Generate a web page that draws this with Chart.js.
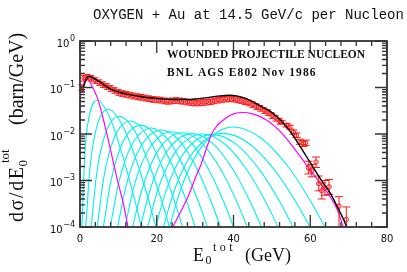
<!DOCTYPE html>
<html>
<head>
<meta charset="utf-8">
<script src="https://cdn.jsdelivr.net/npm/chart.js@4.4.1/dist/chart.umd.min.js"></script>
<style>
  html, body { margin: 0; padding: 0; background: #fff; }
</style>
</head>
<body>
<canvas id="chart" width="407" height="272"></canvas>
<script>
// texts and ticks
const titleText = 'OXYGEN + Au at 14.5 GeV/c per Nucleon';
const noteLines = ['WOUNDED PROJECTILE NUCLEON', 'BNL AGS E802 Nov 1986'];
const xTicks = [0, 20, 40, 60, 80];
const yTickExps = [0, -1, -2, -3, -4];

// measured points (dense part, E0 in GeV, dsigma/dE in barn/GeV)
const denseE = [0.4, 1, 2, 3, 4, 5, 6, 7, 8, 9, 10, 11, 12, 13, 14, 15, 16, 17, 18, 19, 20,
  21, 22, 23, 24, 25, 26, 27, 28, 29, 30, 31, 32, 33, 34, 35, 36, 37, 38, 39, 40,
  41, 42, 43, 44, 45, 46, 47, 48, 49, 50, 51, 52];
const denseSigma = [0.100, 0.160, 0.168, 0.158, 0.142, 0.128, 0.116, 0.106, 0.096, 0.087, 0.079,
  0.075, 0.072, 0.069, 0.066, 0.064, 0.062, 0.060, 0.058, 0.056, 0.055,
  0.054, 0.052, 0.051, 0.052, 0.053, 0.052, 0.051, 0.049, 0.048, 0.047,
  0.047, 0.048, 0.049, 0.050, 0.052, 0.054, 0.056, 0.057, 0.058, 0.057,
  0.055, 0.053, 0.050, 0.047, 0.043, 0.039, 0.036, 0.032, 0.029, 0.025, 0.022, 0.019];
const denseRelErr = 0.14;

// measured points (tail, with error bars)
const tailE = [52.5, 53.8, 54.7, 55.6, 56.4, 57.3, 58.2, 58.8, 59.5, 60.4, 61.5, 62.2, 63.0, 63.8, 64.9, 67.5, 69.4];
const tailSigma = [0.018, 0.0155, 0.0141, 0.011, 0.0094, 0.0068, 0.0062, 0.0065, 0.0019, 0.0016, 0.0025,
  0.00086, 0.0006, 0.0007, 0.00073, 0.00028, 0.000145];
const tailLo = [0.0165, 0.0142, 0.0128, 0.0099, 0.0084, 0.0060, 0.0054, 0.0057, 0.00138, 0.0012, 0.0019,
  0.0006, 0.0004, 0.00048, 0.0005, 0.00005, 0.00005];
const tailHi = [0.0196, 0.0169, 0.0155, 0.0122, 0.0105, 0.0077, 0.0071, 0.0074, 0.0026, 0.0022, 0.0032,
  0.00125, 0.00088, 0.001, 0.00105, 0.00045, 0.00027];

// total model (black)
const blackE = [0.9, 1.6, 2.3, 3, 4, 5, 6.5, 8, 10.4, 12.5, 15.6, 18, 20.8, 25, 28, 30.4, 34, 36.5, 38.8, 40.8,
  43, 45.1, 47.5, 49.5, 51.2, 52.1, 54.7, 57.3, 59.9, 63.3, 65.3, 66.8, 68.6, 69.5];
const blackSigma = [0.100, 0.150, 0.172, 0.168, 0.150, 0.135, 0.110, 0.092, 0.078, 0.071, 0.064, 0.060, 0.057,
  0.055, 0.055, 0.057, 0.062, 0.066, 0.068, 0.066, 0.059, 0.049, 0.038, 0.031, 0.024, 0.0205, 0.0115,
  0.0055, 0.0025, 0.0009, 0.00052, 0.0003, 0.00015, 0.0001];

// one wounded nucleon and all wounded (magenta)
const magenta1E = [0.6, 1.0, 1.75, 3.0, 4.7, 6.5, 7.9, 9.9, 11.3, 12.5];
const magenta1Sigma = [0.075, 0.122, 0.155, 0.112, 0.055, 0.015, 0.0048, 0.0009, 0.00032, 0.0001];
const magenta2E = [24.2, 28.1, 30, 31.6, 33, 34.3, 36, 38, 40, 42.5, 45, 48.6, 52.1, 55, 58.6, 61.5, 63.3, 65.1, 67, 68.6];
const magenta2Sigma = [1e-4, 4.4e-4, 1.1e-3, 2.3e-3, 5e-3, 0.010, 0.016, 0.022, 0.027, 0.029, 0.027, 0.020,
  0.0115, 0.006, 0.0024, 0.00115, 0.00075, 0.00046, 0.00024, 0.0001];

// intermediate numbers of wounded nucleons (cyan)
const cyanE = [
  [0.5, 1.3, 2.5, 4.5, 7.95, 11.4, 14.3, 16.0],
  [1.5, 2.68, 4.45, 7.4, 11.1, 14.85, 17.95, 19.8],
  [2.9, 4.38, 6.6, 10.3, 14.2, 18.1, 21.35, 23.3],
  [4.5, 6.22, 8.8, 13.1, 17.18, 21.26, 24.66, 26.7],
  [6.1, 8.06, 11.0, 15.9, 20.13, 24.36, 27.89, 30.0],
  [7.9, 10.04, 13.25, 18.6, 22.98, 27.36, 31.01, 33.2],
  [9.8, 12.1, 15.55, 21.3, 25.89, 30.48, 34.3, 36.6],
  [11.7, 14.16, 17.85, 24.0, 28.8, 33.6, 37.6, 40.0],
  [13.7, 16.3, 20.2, 26.7, 31.77, 36.84, 41.07, 43.6],
  [15.7, 18.42, 22.5, 29.3, 34.7, 40.1, 44.6, 47.3],
  [17.6, 20.46, 24.75, 31.9, 37.81, 43.72, 48.65, 51.6],
  [19.7, 22.66, 27.1, 34.5, 40.8, 47.1, 52.35, 55.5],
  [21.7, 24.82, 29.5, 37.3, 44.08, 50.86, 56.51, 59.9],
  [23.3, 26.64, 31.65, 40.0, 47.14, 54.28, 60.23, 63.8]
];
const cyanSigma = [
  [1e-4, 4.3e-3, 0.0265, 0.053, 0.0207, 2.78e-3, 3.73e-4, 1e-4],
  [1e-4, 2.2e-3, 0.0151, 0.034, 0.0151, 2.47e-3, 3.6e-4, 1e-4],
  [1e-4, 1.47e-3, 9.98e-3, 0.024, 0.0118, 2.15e-3, 3.52e-4, 1e-4],
  [1e-4, 1.18e-3, 7.8e-3, 0.019, 0.0101, 2.1e-3, 3.52e-4, 1e-4],
  [1e-4, 9.7e-4, 6.25e-3, 0.0155, 8.46e-3, 1.86e-3, 3.36e-4, 1e-4],
  [1e-4, 8.65e-4, 5.31e-3, 0.0135, 7.49e-3, 1.72e-3, 3.25e-4, 1e-4],
  [1e-4, 8.28e-4, 4.9e-3, 0.0122, 7.19e-3, 1.79e-3, 3.32e-4, 1e-4],
  [1e-4, 7.98e-4, 4.57e-3, 0.0112, 6.67e-3, 1.69e-3, 3.25e-4, 1e-4],
  [1e-4, 7.08e-4, 4.17e-3, 0.0106, 6.34e-3, 1.64e-3, 3.21e-4, 1e-4],
  [1e-4, 6.98e-4, 4.05e-3, 0.0102, 6.14e-3, 1.6e-3, 3.18e-4, 1e-4],
  [1e-4, 6.92e-4, 3.98e-3, 0.0100, 6.03e-3, 1.58e-3, 3.16e-4, 1e-4],
  [1e-4, 6.86e-4, 3.92e-3, 0.0098, 5.92e-3, 1.57e-3, 3.15e-4, 1e-4],
  [1e-4, 7.0e-4, 4.07e-3, 0.0103, 6.19e-3, 1.61e-3, 3.19e-4, 1e-4],
  [1e-4, 8.0e-4, 5.24e-3, 0.0141, 8.18e-3, 1.95e-3, 3.44e-4, 1e-4]
];

const RED = '#ff1a1a';
const CYAN = '#00f0f0';
const MAGENTA = '#ff00ff';
const AXIS = '#333';

function pts(xs, ys) {
  return xs.map((x, i) => ({ x: x, y: ys[i] }));
}

function curve(xs, ys, color, width, order) {
  return {
    data: pts(xs, ys),
    showLine: true,
    borderColor: color,
    borderWidth: width,
    pointRadius: 0,
    fill: false,
    cubicInterpolationMode: 'monotone',
    order: order
  };
}

// draw text char by char with extra spacing, returns end x
function drawSpaced(c, text, x, y, gap) {
  for (const ch of text) {
    c.fillText(ch, x, y);
    x += c.measureText(ch).width + gap;
  }
  return x - gap;
}

const datasets = [];
datasets.push(curve(blackE, blackSigma, '#000', 1.4, 0));
datasets.push({
  data: pts(denseE, denseSigma),
  pointRadius: 2,
  pointBorderWidth: 1,
  pointBorderColor: RED,
  pointBackgroundColor: 'rgba(255,120,120,0.6)',
  errLo: denseSigma.map(v => v * (1 - denseRelErr)),
  errHi: denseSigma.map(v => v * (1 + denseRelErr)),
  capW: 6,
  barColor: RED,
  order: 1
});
datasets.push({
  data: pts(tailE, tailSigma),
  pointRadius: 2.2,
  pointBorderWidth: 1,
  pointBorderColor: RED,
  pointBackgroundColor: 'rgba(255,255,255,0)',
  errLo: tailLo,
  errHi: tailHi,
  capW: 8,
  barColor: RED,
  order: 1
});
datasets.push(curve(magenta1E, magenta1Sigma, MAGENTA, 1.2, 2));
datasets.push(curve(magenta2E, magenta2Sigma, MAGENTA, 1.2, 2));
cyanE.forEach((xs, i) => datasets.push(curve(xs, cyanSigma[i], CYAN, 1.1, 3)));

// error bars right after their dataset, so the black line stays on top
const errorBars = {
  id: 'errorBars',
  afterDatasetDraw(chart, args) {
    const ds = chart.data.datasets[args.index];
    if (!ds.errLo) return;
    const c = chart.ctx, a = chart.chartArea;
    const xs = chart.scales.x, ys = chart.scales.y;
    c.save();
    c.beginPath();
    c.rect(a.left - 8, a.top, a.right - a.left + 16, a.bottom - a.top);
    c.clip();
    c.strokeStyle = ds.barColor;
    c.lineWidth = 1;
    const w = ds.capW / 2;
    ds.data.forEach((p, i) => {
      const px = xs.getPixelForValue(p.x);
      const y1 = ys.getPixelForValue(ds.errLo[i]);
      const y2 = ys.getPixelForValue(ds.errHi[i]);
      c.beginPath();
      c.moveTo(px, y1); c.lineTo(px, y2);
      c.moveTo(px - w, y1); c.lineTo(px + w, y1);
      c.moveTo(px - w, y2); c.lineTo(px + w, y2);
      c.stroke();
    });
    c.restore();
  }
};

// frame with inward ticks on all four sides
const frame = {
  id: 'frame',
  afterDatasetsDraw(chart) {
    const c = chart.ctx, a = chart.chartArea;
    const xs = chart.scales.x, ys = chart.scales.y;
    c.save();
    c.strokeStyle = AXIS;
    c.lineWidth = 1.3;
    c.beginPath();
    for (let v = 0; v <= 80; v += 4) {
      const px = xs.getPixelForValue(v);
      const len = xTicks.includes(v) ? 12 : 5;
      c.moveTo(px, a.bottom); c.lineTo(px, a.bottom - len);
      c.moveTo(px, a.top); c.lineTo(px, a.top + len);
    }
    for (let e = -4; e <= 0; e++) {
      for (let m = 1; m <= 9; m++) {
        const v = m * Math.pow(10, e);
        if (v > 1.0001) break;
        const py = ys.getPixelForValue(v);
        const len = m === 1 ? 12 : 5;
        c.moveTo(a.left, py); c.lineTo(a.left + len, py);
        c.moveTo(a.right, py); c.lineTo(a.right - len, py);
      }
    }
    c.stroke();
    c.lineWidth = 1.8;
    c.strokeRect(a.left, a.top, a.right - a.left, a.bottom - a.top);
    c.restore();
  }
};

// all texts: title, note, axis titles, tick labels
const texts = {
  id: 'texts',
  afterDraw(chart) {
    const c = chart.ctx, a = chart.chartArea;
    const xs = chart.scales.x, ys = chart.scales.y;
    c.save();
    c.fillStyle = '#111';
    c.textAlign = 'left';
    c.textBaseline = 'alphabetic';

    c.font = '14px "Liberation Mono", monospace';
    c.fillText(titleText, 93, 19);

    c.font = 'bold 11.5px "Liberation Serif", serif';
    drawSpaced(c, noteLines[0], 167, 57.5, 0);
    drawSpaced(c, noteLines[1], 167, 76, 1.1);

    // x tick labels
    c.font = '10px "DejaVu Sans", sans-serif';
    c.textAlign = 'center';
    xTicks.forEach(v => c.fillText(String(v), xs.getPixelForValue(v), a.bottom + 15));

    // y tick labels 10^k
    c.textAlign = 'left';
    yTickExps.forEach(e => {
      const py = ys.getPixelForValue(Math.pow(10, e));
      const ex = e === 0 ? '0' : '\u2212' + (-e);
      c.font = '8px "DejaVu Sans", sans-serif';
      const ew = c.measureText(ex).width;
      c.font = '10px "DejaVu Sans", sans-serif';
      const bw = c.measureText('10').width;
      const right = 75;
      c.fillText('10', right - ew - bw - 0.5, py + 5.5);
      c.font = '8px "DejaVu Sans", sans-serif';
      c.fillText(ex, right - ew, py - 0.5);
    });

    // x axis title
    c.font = '18px "Liberation Serif", serif';
    c.fillText('E', 193, 260.5);
    c.font = '12px "Liberation Serif", serif';
    c.fillText('0', 205.5, 264);
    drawSpaced(c, 'tot', 213, 250.5, 3.5);
    c.font = '18px "Liberation Serif", serif';
    c.fillText('(GeV)', 245, 260.5);

    // y axis title, rotated
    c.translate(23, 222);
    c.rotate(-Math.PI / 2);
    c.font = '20px "Liberation Serif", serif';
    const endMain = drawSpaced(c, 'd\u03c3/dE', 0, 0, 1.6);
    c.font = '13px "Liberation Serif", serif';
    c.fillText('0', endMain + 0.5, 4);
    c.fillText('tot', endMain + 4, -14);
    c.font = '20px "Liberation Serif", serif';
    c.fillText('(barn/GeV)', 97, 0);
    c.restore();
  }
};

const ctx = document.getElementById('chart').getContext('2d');
new Chart(ctx, {
  type: 'scatter',
  data: { datasets: datasets },
  options: {
    responsive: false,
    animation: false,
    devicePixelRatio: 1,
    layout: { padding: { left: 80, right: 20, top: 41, bottom: 45 } },
    plugins: {
      legend: { display: false },
      tooltip: { enabled: false },
      title: { display: false }
    },
    scales: {
      x: { type: 'linear', min: 0, max: 80, display: false },
      y: { type: 'logarithmic', min: 1e-4, max: 1, display: false }
    }
  },
  plugins: [errorBars, frame, texts]
});
</script>
</body>
</html>
